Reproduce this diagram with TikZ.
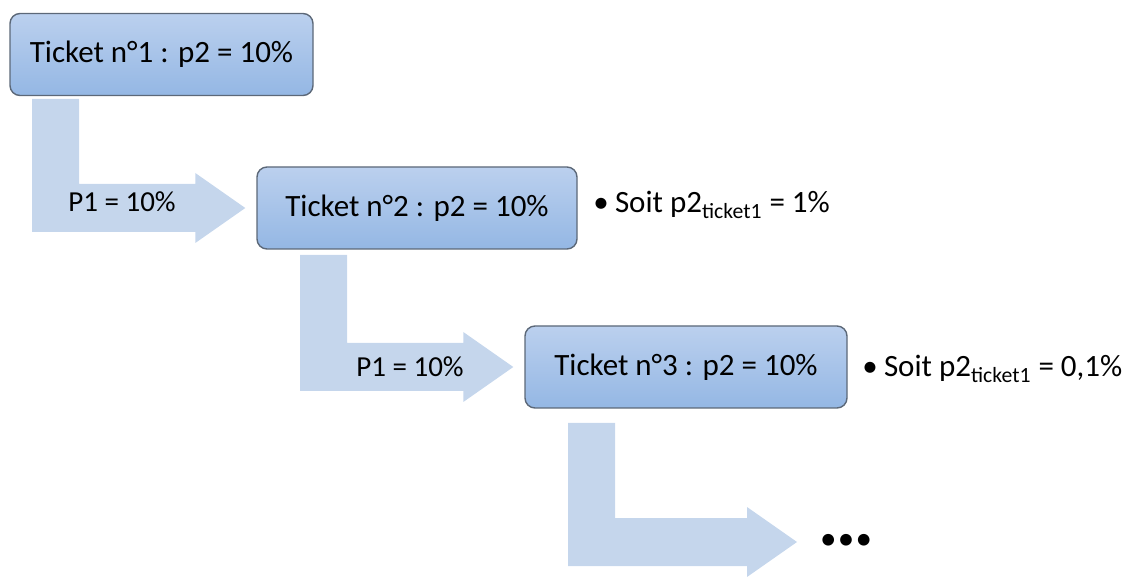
\documentclass[tikz,border=0pt]{standalone}
\usepackage{fontspec}
\setmainfont{Carlito}
\usetikzlibrary{calc}
\definecolor{boxtop}{RGB}{187,208,238}
\definecolor{boxbot}{RGB}{148,183,228}
\definecolor{boxline}{RGB}{92,104,120}
\definecolor{arrowfill}{RGB}{197,214,236}

% bent block arrow: #1 = top left corner of the stem, #2 = tip
\newcommand{\bentarrow}[2]{%
  \fill[arrowfill] (#1) -- ++(47,0) |- ($(#2)+(-50,24)$) -- ++(0,11)
    -- (#2) -- ++(-50,-35) -- ++(0,11) -| (#1) -- cycle;}

\begin{document}
\begin{tikzpicture}[x=0.5pt,y=0.5pt]
  \tikzset{ ticket/.style={draw=boxline, line width=0.7pt, rounded corners=5pt,
      top color=boxtop, bottom color=boxbot, minimum height=41pt,
      font=\fontsize{15.5}{18}\selectfont},
    note/.style={anchor=base west, inner sep=0pt, font=\fontsize{15.5}{18}\selectfont},
    prob/.style={anchor=base, inner sep=0pt, font=\fontsize{14.5}{17}\selectfont} };
  \useasboundingbox (0,0) rectangle (1131,-577);

  \node[ticket, minimum width=151.5pt] (t1) at (161.5,-54.5) {Ticket n°1 : p2 = 10\%};
  \node[ticket, minimum width=160pt] (t2) at (417,-208) {Ticket n°2 : p2 = 10\%};
  \node[ticket, minimum width=161pt] (t3) at (686,-367) {Ticket n°3 : p2 = 10\%};
  \node[inner sep=0pt, font=\fontsize{16.5}{16.5}\selectfont] (more) at (846,-542) {•\hspace{0.04em}•\hspace{0.04em}•};

  % stems and tips of the arrows
  \coordinate (s1) at (32,-99);
  \coordinate (s2) at (300,-255);
  \coordinate (s3) at (568,-423);
  \coordinate (e1) at ($(t2.west)+(-11,0)$);
  \coordinate (e2) at ($(t3.west)+(-11,0)$);
  \coordinate (e3) at (797,-542);
  \bentarrow{s1}{e1}
  \bentarrow{s2}{e2}
  \bentarrow{s3}{e3}

  \node[prob] (p1a) at (122,-212) {P1 = 10\%};
  \node[prob] (p1b) at (410,-377) {P1 = 10\%};
  \node[note] (n2) at (593,-213) {•\hspace{0.2em}Soit p2\textsubscript{ticket1} = 1\%};
  \node[note] (n3) at (862,-377) {•\hspace{0.2em}Soit p2\textsubscript{ticket1} = 0,1\%};
\end{tikzpicture}
\end{document}
